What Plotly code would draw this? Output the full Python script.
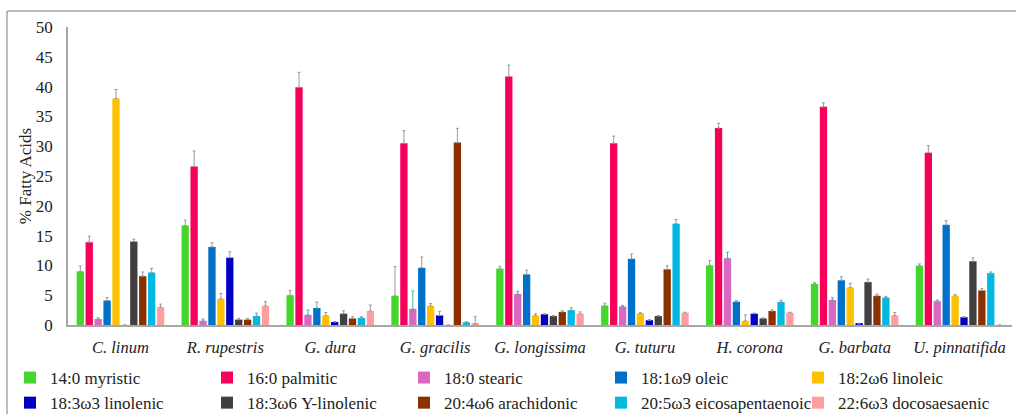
import plotly.graph_objects as go

species = ["C. linum", "R. rupestris", "G. dura", "G. gracilis", "G. longissima",
           "G. tuturu", "H. corona", "G. barbata", "U. pinnatifida"]

acid_names = ["14:0 myristic", "16:0 palmitic", "18:0 stearic", "18:1ω9 oleic",
              "18:2ω6 linoleic", "18:3ω3 linolenic", "18:3ω6 Y-linolenic",
              "20:4ω6 arachidonic", "20:5ω3 eicosapentaenoic", "22:6ω3 docosaesaenic"]

colors = ["#44D62C", "#F5005A", "#DA68C0", "#0070C8", "#FFC000",
          "#0000C0", "#404040", "#8B3000", "#00B8E0", "#FF9E9E"]

err_colors = ["#9A9A9A", "#9A9A9A", "#3DBF9A", "#9A9A9A", "#9A9A9A",
              "#9A9A9A", "#9A9A9A", "#9A9A9A", "#9A9A9A", "#9A9A9A"]

myristic = [9.0, 16.7, 5.0, 4.9, 9.45, 3.25, 10.0, 6.9, 9.95]
palmitic = [13.9, 26.6, 39.9, 30.5, 41.7, 30.5, 33.05, 36.6, 28.9]
stearic = [1.0, 0.7, 1.7, 2.7, 5.2, 3.1, 11.2, 4.2, 4.0]
oleic = [4.1, 13.1, 2.85, 9.6, 8.5, 11.1, 3.9, 7.5, 16.8]
linoleic = [38.0, 4.4, 1.6, 3.2, 1.6, 1.95, 0.7, 6.3, 4.9]
linolenic = [0.0, 11.3, 0.5, 1.6, 1.8, 0.8, 1.9, 0.2, 1.3]
y_linolenic = [14.0, 0.9, 1.9, 0.0, 1.5, 1.5, 1.1, 7.2, 10.7]
arachidonic = [8.2, 0.9, 1.1, 30.6, 2.2, 9.35, 2.35, 4.9, 5.8]
epa = [8.8, 1.5, 1.2, 0.45, 2.5, 17.0, 3.85, 4.6, 8.7]
dha = [3.0, 3.2, 2.35, 0.2, 1.9, 2.05, 2.05, 1.6, 0.0]

myristic_err = [0.9, 0.9, 0.8, 4.9, 0.4, 0.4, 0.8, 0.2, 0.3]
palmitic_err = [1.0, 2.6, 2.5, 2.1, 1.9, 1.2, 0.8, 0.7, 1.2]
stearic_err = [0.2, 0.3, 0.8, 3.0, 0.45, 0.2, 1.0, 0.4, 0.2]
oleic_err = [0.5, 0.7, 1.0, 1.8, 0.7, 0.8, 0.2, 0.6, 0.7]
linoleic_err = [1.5, 0.9, 0.5, 0.4, 0.3, 0.1, 1.0, 0.7, 0.2]
linolenic_err = [0.0, 1.0, 0.1, 0.7, 0.1, 0.1, 0.1, 0.1, 0.1]
y_linolenic_err = [0.4, 0.2, 0.5, 0.0, 0.1, 0.1, 0.1, 0.5, 0.6]
arachidonic_err = [0.7, 0.2, 0.3, 2.4, 0.2, 0.6, 0.2, 0.3, 0.3]
epa_err = [0.7, 0.5, 0.2, 0.1, 0.4, 0.7, 0.3, 0.2, 0.2]
dha_err = [0.5, 0.7, 1.0, 1.2, 0.3, 0.1, 0.1, 0.5, 0.0]

y_ticks = [0, 5, 10, 15, 20, 25, 30, 35, 40, 45, 50]

series = [myristic, palmitic, stearic, oleic, linoleic, linolenic,
          y_linolenic, arachidonic, epa, dha]
errors = [myristic_err, palmitic_err, stearic_err, oleic_err, linoleic_err,
          linolenic_err, y_linolenic_err, arachidonic_err, epa_err, dha_err]

FONT = "Liberation Serif"

fig = go.Figure()
for i, (name, vals, errs, col, ecol) in enumerate(
        zip(acid_names, series, errors, colors, err_colors)):
    last_col = (i % 5 == 4)
    fig.add_trace(go.Bar(
        x=species, y=vals, name=name,
        legendwidth=(150 if last_col else None),
        marker=dict(color=col, line=dict(width=0)),
        error_y=dict(type="data", array=errs, arrayminus=[0] * len(errs),
                     symmetric=False, color=ecol, thickness=1, width=1.5),
    ))

# plot area: x 68..1012, y 27..325 (px)
L, R, T, B = 68, 1012, 27, 325
W, H = 1016, 414
pw, ph = R - L, B - T

def px_x(p):
    return (p - L) / pw

def px_y(p):
    return (B - p) / ph

fig.update_layout(
    width=W, height=H,
    margin=dict(l=L, r=W - R, t=T, b=H - B, autoexpand=False),
    paper_bgcolor="white", plot_bgcolor="white",
    barmode="group", bargap=0.15, bargroupgap=0.18,
    font=dict(family=FONT, size=16, color="#222222"),
    showlegend=True,
    legend=dict(
        orientation="h", x=px_x(10), xanchor="left", y=px_y(360), yanchor="top",
        font=dict(family=FONT, size=17, color="#222222"),
        itemwidth=30, entrywidth=152, entrywidthmode="pixels",
        tracegroupgap=0, bgcolor="rgba(0,0,0,0)", traceorder="normal",
        itemclick=False, itemdoubleclick=False,
    ),
    xaxis=dict(
        type="category", showgrid=False, zeroline=False,
        showline=True, linecolor="#A6A6A6", linewidth=1.5,
        ticks="", ticklabelstandoff=6,
        tickfont=dict(family=FONT, size=16.5, color="#222222", style="italic"),
        range=[-0.5, 8.5], fixedrange=True,
    ),
    yaxis=dict(
        range=[0, 50], tickvals=y_ticks, ticktext=[str(v) for v in y_ticks],
        showgrid=False, zeroline=False,
        showline=True, linecolor="#A6A6A6", linewidth=1.5,
        ticks="", ticklabelstandoff=10,
        tickfont=dict(family=FONT, size=17, color="#222222"),
        title=dict(text="% Fatty Acids", standoff=0,
                   font=dict(family=FONT, size=17, color="#222222")),
        fixedrange=True,
    ),
    shapes=[
        dict(type="line", xref="paper", yref="paper",
             x0=px_x(7), x1=px_x(1016), y0=px_y(11), y1=px_y(11),
             line=dict(color="#A6A6A6", width=1.5)),
        dict(type="line", xref="paper", yref="paper",
             x0=px_x(7), x1=px_x(7), y0=px_y(11), y1=px_y(414),
             line=dict(color="#A6A6A6", width=1.5)),
    ],
)

fig.write_html(
    "out.html",
    config={"displayModeBar": False},
    post_script="document.body.style.margin='0px';document.body.style.overflow='hidden';",
)
